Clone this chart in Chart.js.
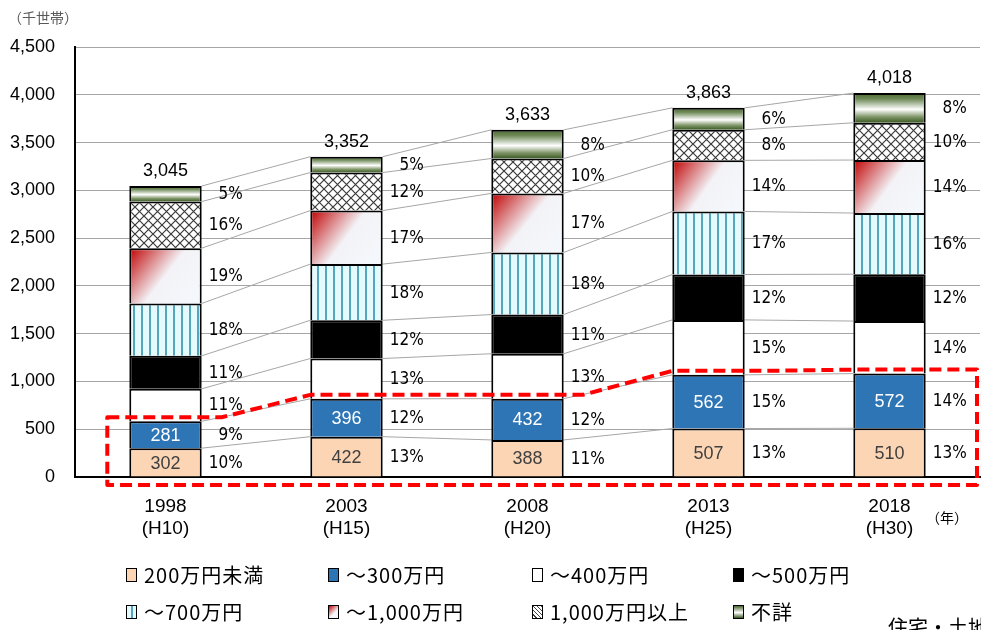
<!DOCTYPE html>
<html lang="ja">
<head>
<meta charset="utf-8">
<title>年間収入階級別世帯数</title>
<script src="https://cdn.jsdelivr.net/npm/chart.js@4.4.1/dist/chart.umd.min.js"></script>
<style>
    html, body { margin: 0; padding: 0; background: #fff; }
    body { width: 981px; height: 630px; position: relative; overflow: hidden; font-family: "Noto Sans CJK JP", sans-serif; }
    #chart { position: absolute; left: 0; top: 0; }
    .note { position: absolute; color: #595959; font-size: 14px; line-height: 1; white-space: nowrap; }
    .item { position: absolute; height: 28px; line-height: 28px; font-size: 20px; letter-spacing: 1px; color: #000; display: flex; align-items: center; white-space: nowrap; }
    .sw { box-sizing: border-box; width: 11px; height: 14px; border: 1.5px solid #000; margin-right: 7px; }
</style>
</head>
<body>
<canvas id="chart" width="981" height="630"></canvas>
<div class="note" style="left:8px; top:10px;">（千世帯）</div>
<div class="note" style="left:926px; top:510px; color:#000;">（年）</div>
<div id="legend"></div>
<div class="note" style="left:888px; top:617px; font-size:20px; color:#000;">住宅・土地統計調査</div>

<script>
// Categories (survey years)
const years = [['1998', '(H10)'], ['2003', '(H15)'], ['2008', '(H20)'], ['2013', '(H25)'], ['2018', '(H30)']];

// Households by annual income (thousand households)
const under200 = [302, 422, 388, 507, 510];
const to300 = [281, 396, 432, 562, 572];
const to400 = [340, 422, 470, 575, 550];
const to500 = [345, 400, 410, 475, 490];
const to700 = [548, 588, 650, 660, 640];
const to1000 = [579, 560, 618, 535, 555];
const over1000 = [487, 398, 365, 320, 390];
const unknown = [163, 166, 300, 229, 311];

// Shares shown next to each segment (%)
const pctUnder200 = [10, 13, 11, 13, 13];
const pctTo300 = [9, 12, 12, 15, 14];
const pctTo400 = [11, 13, 13, 15, 14];
const pctTo500 = [11, 12, 11, 12, 12];
const pctTo700 = [18, 18, 18, 17, 16];
const pctTo1000 = [19, 17, 17, 14, 14];
const pctOver1000 = [16, 12, 10, 8, 10];
const pctUnknown = [5, 5, 8, 6, 8];

const seriesNames = ['200万円未満', '～300万円', '～400万円', '～500万円', '～700万円', '～1,000万円', '1,000万円以上', '不詳'];
const seriesData = [under200, to300, to400, to500, to700, to1000, over1000, unknown];
const seriesPct = [pctUnder200, pctTo300, pctTo400, pctTo500, pctTo700, pctTo1000, pctOver1000, pctUnknown];

const BAR_PCT = 0.4;

// Patterns
function makeStripes() {
    const c = document.createElement('canvas');
    c.width = 8; c.height = 4;
    const g = c.getContext('2d');
    g.fillStyle = '#E4FAFC';
    g.fillRect(0, 0, 8, 4);
    g.fillStyle = '#55A6BC';
    g.fillRect(5, 0, 2, 4);
    return g.createPattern(c, 'repeat');
}

function makeCross() {
    const c = document.createElement('canvas');
    c.width = 9; c.height = 9;
    const g = c.getContext('2d');
    g.fillStyle = '#fff';
    g.fillRect(0, 0, 9, 9);
    g.strokeStyle = '#3a3a3a';
    g.lineWidth = 1.2;
    g.beginPath();
    g.moveTo(0, 0); g.lineTo(9, 9);
    g.moveTo(9, 0); g.lineTo(0, 9);
    g.stroke();
    return g.createPattern(c, 'repeat');
}

// Box of one segment, taken from the scales
function segBox(chart, d, i) {
    const xs = chart.scales.x, ys = chart.scales.y;
    const w = xs.width / years.length * BAR_PCT;
    const cx = xs.getPixelForValue(i);
    let base = 0;
    for (let k = 0; k < d; k++) base += seriesData[k][i];
    return {
        left: cx - w / 2,
        right: cx + w / 2,
        top: ys.getPixelForValue(base + seriesData[d][i]),
        bottom: ys.getPixelForValue(base)
    };
}

function redFade(ctx) {
    if (ctx.type !== 'data' || !ctx.chart.chartArea) return '#E8A0A0';
    const b = segBox(ctx.chart, ctx.datasetIndex, ctx.dataIndex);
    const g = ctx.chart.ctx.createLinearGradient(b.left, b.top, b.right, b.bottom);
    g.addColorStop(0, '#C00000');
    g.addColorStop(0.5, '#F3F3F7');
    g.addColorStop(1, '#F4F8FC');
    return g;
}

function greenBand(ctx) {
    if (ctx.type !== 'data' || !ctx.chart.chartArea) return '#8FA080';
    const b = segBox(ctx.chart, ctx.datasetIndex, ctx.dataIndex);
    const g = ctx.chart.ctx.createLinearGradient(0, b.top, 0, b.bottom);
    g.addColorStop(0, '#4A672E');
    g.addColorStop(0.2, '#6F8A58');
    g.addColorStop(0.55, '#FFFFFF');
    g.addColorStop(0.8, '#7F9668');
    g.addColorStop(1, '#3A5822');
    return g;
}

const fills = ['#FCD5B5', '#2E75B6', '#FFFFFF', '#000000', makeStripes(), redFade, makeCross(), greenBand];

function cumulative(d, i) {
    let s = 0;
    for (let k = 0; k <= d; k++) s += seriesData[k][i];
    return s;
}

// Thin grey lines joining segment tops between bars
const connectors = {
    id: 'connectors',
    beforeDatasetsDraw(chart) {
        const ctx = chart.ctx;
        const ys = chart.scales.y;
        ctx.save();
        ctx.strokeStyle = '#A6A6A6';
        ctx.lineWidth = 1;
        for (let i = 0; i < years.length - 1; i++) {
            for (let d = 0; d < seriesData.length; d++) {
                const a = segBox(chart, d, i), b = segBox(chart, d, i + 1);
                ctx.beginPath();
                ctx.moveTo(a.right, ys.getPixelForValue(cumulative(d, i)));
                ctx.lineTo(b.left, ys.getPixelForValue(cumulative(d, i + 1)));
                ctx.stroke();
            }
        }
        ctx.restore();
    }
};

// Values, shares, totals and the red dashed frame
const labels = {
    id: 'labels',
    afterDatasetsDraw(chart) {
        const ctx = chart.ctx;
        const ys = chart.scales.y;
        const area = chart.chartArea;
        ctx.save();
        ctx.textBaseline = 'middle';

        // values inside the two lowest segments
        ctx.textAlign = 'center';
        ctx.font = '18px "Liberation Sans", Arial, sans-serif';
        [0, 1].forEach(d => {
            ctx.fillStyle = d === 0 ? '#404040' : '#FFFFFF';
            seriesData[d].forEach((v, i) => {
                const b = segBox(chart, d, i);
                ctx.fillText(String(v), (b.left + b.right) / 2, (b.top + b.bottom) / 2 + 1);
            });
        });

        // shares to the right of each segment
        ctx.textAlign = 'right';
        ctx.fillStyle = '#000';
        ctx.font = '17px "Liberation Sans Narrow", "DejaVu Sans Condensed", sans-serif';
        seriesPct.forEach((arr, d) => {
            arr.forEach((p, i) => {
                const b = segBox(chart, d, i);
                ctx.fillText(p + '%', b.right + 41, (b.top + b.bottom) / 2 + 1);
            });
        });

        // totals above bars
        ctx.textAlign = 'center';
        ctx.font = '18px "Liberation Sans", Arial, sans-serif';
        years.forEach((y, i) => {
            const b = segBox(chart, seriesData.length - 1, i);
            const total = cumulative(seriesData.length - 1, i);
            ctx.fillText(total.toLocaleString('en-US'), (b.left + b.right) / 2, b.top - 15);
        });

        // red dashed frame around the two lowest classes
        const pts = [];
        years.forEach((y, i) => {
            const b = segBox(chart, 1, i);
            const yy = ys.getPixelForValue(cumulative(1, i)) - 4;
            if (i === 0) pts.push([b.left - 22, yy]);
            else pts.push([b.left, yy]);
            if (i < years.length - 1) pts.push([b.right + 20, yy]);
            else pts.push([area.right - 3, yy]);
        });
        const yBottom = ys.getPixelForValue(0) + 8;
        ctx.strokeStyle = '#FF0000';
        ctx.lineWidth = 4;
        ctx.setLineDash([12, 6]);
        ctx.lineJoin = 'round';
        ctx.beginPath();
        pts.forEach((p, k) => (k === 0 ? ctx.moveTo(p[0], p[1]) : ctx.lineTo(p[0], p[1])));
        ctx.lineTo(area.right - 3, yBottom);
        ctx.lineTo(pts[0][0], yBottom);
        ctx.closePath();
        ctx.stroke();
        ctx.restore();
    }
};

new Chart(document.getElementById('chart'), {
    type: 'bar',
    data: {
        labels: years,
        datasets: seriesNames.map((name, d) => ({
            label: name,
            data: seriesData[d],
            backgroundColor: fills[d],
            borderColor: '#000',
            borderWidth: 2,
            barPercentage: BAR_PCT,
            categoryPercentage: 1
        }))
    },
    options: {
        responsive: false,
        animation: false,
        devicePixelRatio: 1,
        layout: { padding: { top: 47, right: 1, bottom: 0, left: 0 } },
        plugins: {
            legend: { display: false },
            tooltip: { enabled: false }
        },
        scales: {
            x: {
                stacked: true,
                grid: { display: false, drawTicks: false },
                border: { display: true, color: '#000', width: 2 },
                ticks: {
                    color: '#000',
                    padding: 18,
                    font: { family: '"Liberation Sans", Arial, sans-serif', size: 19, lineHeight: 1.2 }
                },
                afterFit(scale) { scale.height = 153; }
            },
            y: {
                stacked: true,
                min: 0,
                max: 4500,
                grid: { color: '#A6A6A6', lineWidth: 1, drawTicks: false },
                border: { display: true, color: '#000', width: 2 },
                ticks: {
                    stepSize: 500,
                    color: '#000',
                    padding: 20,
                    font: { family: '"Liberation Sans", Arial, sans-serif', size: 18 },
                    callback: v => v.toLocaleString('en-US')
                },
                afterFit(scale) { scale.width = 75; }
            }
        }
    },
    plugins: [connectors, labels]
});

// Legend laid out as in the original, 4 columns x 2 rows
const swatchCss = [
    'background:#FCD5B5',
    'background:#2E75B6',
    'background:#FFFFFF',
    'background:#000000',
    'background:repeating-linear-gradient(90deg,#E4FAFC 0 4px,#55A6BC 4px 6px)',
    'background:linear-gradient(135deg,#C00000,#F4F8FC 60%)',
    'background:repeating-linear-gradient(45deg,#fff 0 2px,#444 2px 3px),#fff',
    'background:linear-gradient(180deg,#4A672E,#FFFFFF 55%,#3A5822)'
];
const legendCols = [126, 328, 532, 733];
const legendRows = [575, 612];
const legend = document.getElementById('legend');
seriesNames.forEach((name, d) => {
    const item = document.createElement('div');
    item.className = 'item';
    item.style.left = legendCols[d % 4] + 'px';
    item.style.top = (legendRows[Math.floor(d / 4)] - 14) + 'px';
    item.innerHTML = `<span class="sw" style="${swatchCss[d]}"></span><span>${name}</span>`;
    legend.appendChild(item);
});
</script>
</body>
</html>
